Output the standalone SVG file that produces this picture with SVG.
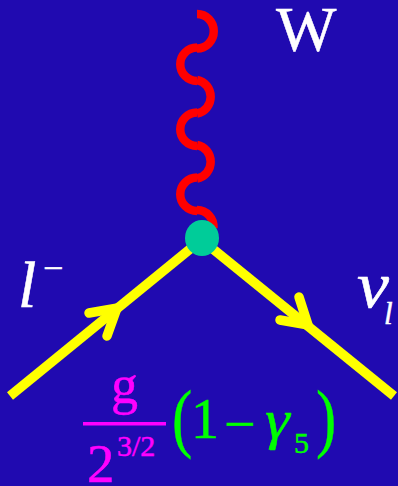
<svg xmlns="http://www.w3.org/2000/svg" width="398" height="486" viewBox="0 0 398 486">
<style>
.s{font-family:"Liberation Serif","Times New Roman",serif;stroke-width:.5}
.i{font-style:italic}
.w{fill:#fff;stroke:#fff}
.m{fill:#ff00ff;stroke:#ff00ff}
.g{fill:#00ff00;stroke:#00ff00}
.a{fill:none;stroke:#ff0000;stroke-width:8.500}
.f{fill:none;stroke:#ffff00;stroke-width:9.500}
.h{fill:none;stroke:#ffff00;stroke-width:9.500;stroke-linecap:round;stroke-linejoin:miter}
</style>
<rect width="398" height="486" fill="#200ab0"/>
<g id="connectors">
<g id="boson">
<path class="a" d="M197 14A16.500 17 0 0 1 197 48.500"/>
<path class="a" d="M197 47.500A16.500 16.500 0 0 0 197 81"/>
<path class="a" d="M197 80A16.500 17 0 0 1 197 113.500"/>
<path class="a" d="M197 112.500A16.500 16.500 0 0 0 197 146"/>
<path class="a" d="M197 145A16.500 17 0 0 1 197 178.500"/>
<path class="a" d="M197 177.500A16.500 16.500 0 0 0 197 211"/>
<path class="a" d="M197 210A16.500 17 0 0 1 213.500 228"/>
</g>
<g id="lepton-in">
<path class="f" d="M10 396L195 245"/>
<path class="h" d="M89 313L117 308L107 336"/>
</g>
<g id="lepton-out">
<path class="f" d="M208 245L394 396"/>
<path class="h" d="M299 297L308 325L280 320"/>
</g>
</g>
<g id="vertex"><ellipse cx="202" cy="238" rx="17" ry="18" fill="#00cc99"/></g>
<g id="label-w"><text class="s w" x="276" y="51" font-size="64">W</text></g>
<g id="label-l"><text class="s i w" x="18" y="307" font-size="66">l</text><text class="s w" x="43" y="280" font-size="36">−</text></g>
<g id="label-nu"><text class="s i w" transform="translate(357 307) scale(1.2 1.1)" font-size="60">ν</text><text class="s i w" x="384" y="324" font-size="31">l</text></g>
<g id="coupling">
<text class="s m" x="111" y="403" font-size="54">g</text>
<rect x="83" y="422" width="83" height="3.500" fill="#ff00ff"/>
<text class="s m" x="87" y="482" font-size="55">2</text>
<text class="s m" x="117" y="456" font-size="30">3/2</text>
<text class="s g" transform="translate(172 443) scale(.8 1)" font-size="76">(</text>
<text class="s g" x="191" y="438" font-size="56">1</text>
<text class="s g" x="224" y="443" font-size="56" stroke-width="1">−</text>
<text class="s i g" transform="translate(265 438) scale(1.12 1)" font-size="56">γ</text>
<text class="s g" x="294" y="453" font-size="30">5</text>
<text class="s g" transform="translate(316 443) scale(.8 1)" font-size="76">)</text>
</g>
</svg>
